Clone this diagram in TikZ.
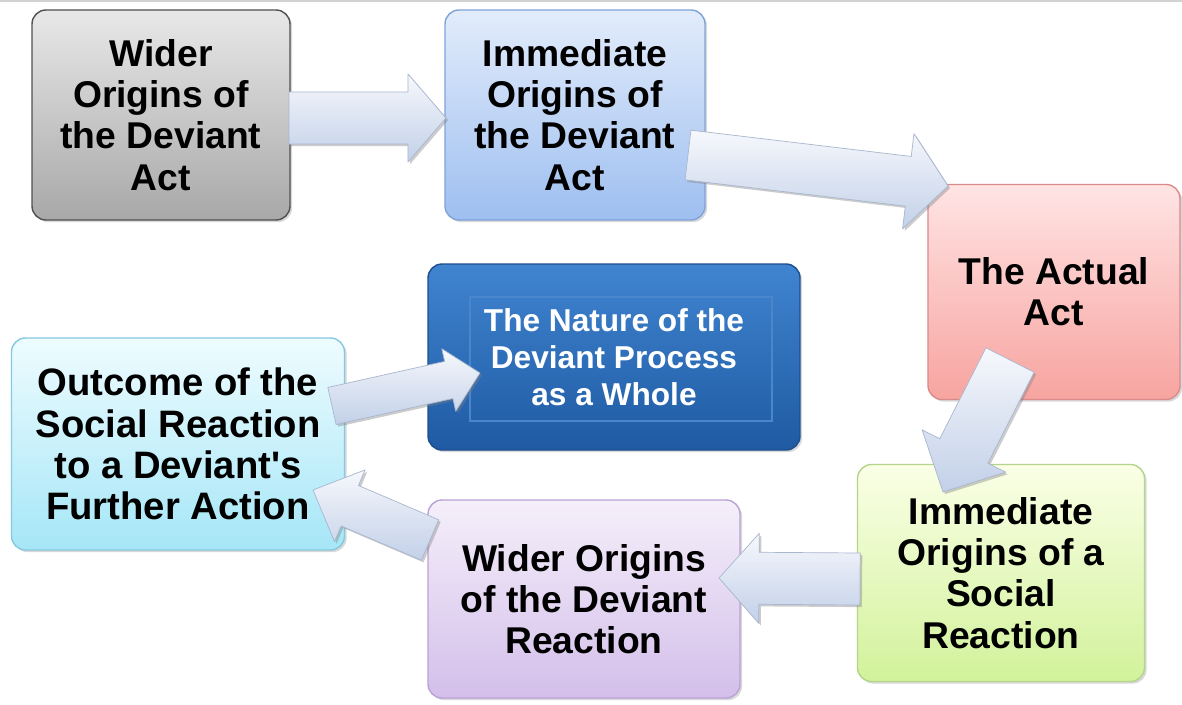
\documentclass[tikz,border=0pt]{standalone}
\usepackage{fontspec}
\setmainfont{Liberation Sans}[Ligatures=TeXOff]
\usetikzlibrary{calc,shadows}
\definecolor{gtop}{HTML}{E8E8E8}\definecolor{gbot}{HTML}{A8A8A8}\definecolor{gline}{HTML}{505050}
\definecolor{lbtop}{HTML}{E2ECFB}\definecolor{lbbot}{HTML}{9EBFF0}\definecolor{lbline}{HTML}{7FA3D9}
\definecolor{rtop}{HTML}{FFE4E4}\definecolor{rbot}{HTML}{F7A4A0}\definecolor{rline}{HTML}{D98B8B}
\definecolor{dbtop}{HTML}{4084D0}\definecolor{dbbot}{HTML}{1F5AA3}\definecolor{dbline}{HTML}{1D4E8F}\definecolor{dbframe}{HTML}{4A86CC}
\definecolor{ctop}{HTML}{EEFCFF}\definecolor{cbot}{HTML}{A5E6F7}\definecolor{cline}{HTML}{86C9DF}
\definecolor{ptop}{HTML}{F5EFFA}\definecolor{pbot}{HTML}{D3BFEA}\definecolor{pline}{HTML}{B9A2D6}
\definecolor{grtop}{HTML}{FAFFE6}\definecolor{grbot}{HTML}{D2F29B}\definecolor{grline}{HTML}{B4D489}
\definecolor{atop}{HTML}{F6F8FC}\definecolor{abot}{HTML}{C2D0E8}\definecolor{aline}{HTML}{A8B6CE}
\tikzset{
  stage/.style={rounded corners=0.35cm, line width=1pt, align=center, inner sep=0pt,
    font=\bfseries\fontsize{26.5}{29.3}\selectfont,
    drop shadow={opacity=0.3, shadow xshift=1.5pt, shadow yshift=-1.5pt}},
  flow/.style={top color=atop, bottom color=abot, draw=aline, line width=0.5pt, line join=round,
    drop shadow={opacity=0.4, shadow xshift=1.5pt, shadow yshift=-1.5pt}}
}
% #1 start, #2 tip, #3 shaft half width, #4 head half width, #5 head length
\newcommand{\flowarrow}[5]{%
  \coordinate (fah) at ($(#2)!#5!(#1)$);
  \path[flow] ($(#1)!#3!90:(#2)$) -- ($(fah)!#3!90:(#2)$) -- ($(fah)!#4!90:(#2)$) -- (#2)
    -- ($(fah)!#4!-90:(#2)$) -- ($(fah)!#3!-90:(#2)$) -- ($(#1)!#3!-90:(#2)$) -- cycle;
}
\begin{document}
\begin{tikzpicture}[x=0.025cm, y=-0.025cm]
\useasboundingbox[fill=white] (0,0) rectangle (1182,704);
\fill[gray!35] (0,0) rectangle (1182,2);

\node[stage, top color=gtop, bottom color=gbot, draw=gline, minimum width=258*0.025cm, minimum height=210*0.025cm] (g1) at (161,115) {Wider\\Origins of\\the Deviant\\Act};
\node[stage, top color=lbtop, bottom color=lbbot, draw=lbline, minimum width=260*0.025cm, minimum height=210*0.025cm] (b1) at (575,115) {Immediate\\Origins of\\the Deviant\\Act};
\node[stage, top color=rtop, bottom color=rbot, draw=rline, minimum width=252*0.025cm, minimum height=215*0.025cm] (r1) at (1054,292) {The Actual\\Act};
\node[stage, top color=dbtop, bottom color=dbbot, draw=dbline, text=white, minimum width=372*0.025cm, minimum height=186*0.025cm,
  font=\bfseries\fontsize{22.5}{26.3}\selectfont] (d1) at (614,357) {The Nature of the\\Deviant Process\\as a Whole};
\draw[dbframe, line width=0.8pt] (470,297) rectangle (772,421);
\node[stage, top color=ctop, bottom color=cbot, draw=cline, minimum width=333*0.025cm, minimum height=212*0.025cm,
  font=\bfseries\fontsize{27.2}{29.3}\selectfont] (c1) at (178,444) {Outcome of the\\Social Reaction\\to a Deviant's\\Further Action};
\node[stage, top color=ptop, bottom color=pbot, draw=pline, minimum width=312*0.025cm, minimum height=198*0.025cm] (p1) at (584,599) {Wider Origins\\of the Deviant\\Reaction};
\node[stage, top color=grtop, bottom color=grbot, draw=grline, minimum width=287*0.025cm, minimum height=217*0.025cm] (e1) at (1001,573) {Immediate\\Origins of a\\Social\\Reaction};

\coordinate (a1s) at (289,118);  \coordinate (a1e) at (446,118);
\coordinate (a2s) at (688,155);  \coordinate (a2e) at (948,186);
\coordinate (a3s) at (1010,360); \coordinate (a3e) at (943,492);
\coordinate (a4s) at (860,579);  \coordinate (a4e) at (719,578);
\coordinate (a5s) at (430,540);  \coordinate (a5e) at (313,490);
\coordinate (a6s) at (332,406);  \coordinate (a6e) at (480,373);

\flowarrow{a1s}{a1e}{0.65cm}{1.1cm}{0.95cm}
\flowarrow{a2s}{a2e}{0.625cm}{1.2cm}{1.0cm}
\flowarrow{a3s}{a3e}{0.675cm}{1.17cm}{1.15cm}
\flowarrow{a4s}{a4e}{0.65cm}{1.125cm}{1.0cm}
\flowarrow{a5s}{a5e}{0.55cm}{0.975cm}{1.0cm}
\flowarrow{a6s}{a6e}{0.475cm}{0.8cm}{0.8cm}
\end{tikzpicture}
\end{document}
